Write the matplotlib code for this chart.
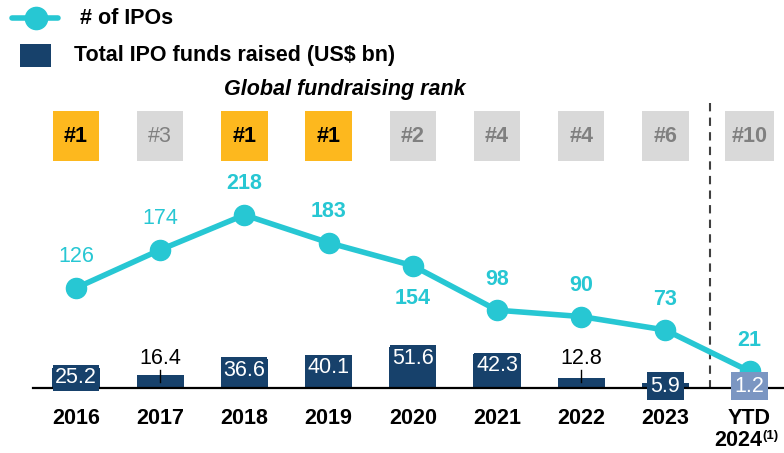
import numpy as np
import matplotlib.pyplot as plt
from matplotlib.patches import Rectangle
from matplotlib.lines import Line2D

plt.rcParams['font.family'] = ['Liberation Sans', 'DejaVu Sans']

# data
years = ['2016', '2017', '2018', '2019', '2020', '2021', '2022', '2023', 'YTD']
ipo_count = [126, 174, 218, 183, 154, 98, 90, 73, 21]
funds_bn = [25.2, 16.4, 36.6, 40.1, 51.6, 42.3, 12.8, 5.9, 1.2]
ranks = ['#1', '#3', '#1', '#1', '#2', '#4', '#4', '#6', '#10']

# styling
CYAN = '#27C7D3'
NAVY = '#17416B'
LIGHT_BLUE = '#7B96C2'
ORANGE = '#FDB81E'
GREY_BOX = '#D9D9D9'
GREY_TXT = '#808080'

W, H = 784, 453
X0, DX = 76, 84.2      # pixel centre of first category and spacing
Y0, SY = 388, 0.794    # pixel row of zero line and px per unit


def dx(px):
    return (px - X0) / DX


def dy(py):
    return (Y0 - py) / SY


fig = plt.figure(figsize=(W / 100, H / 100), dpi=100)
ax = fig.add_axes([0, 0, 1, 1])
ax.set_xlim(dx(0), dx(W))
ax.set_ylim(dy(H), dy(0))
ax.axis('off')

x = np.arange(len(years))

# bars
bar_colors = [NAVY] * (len(years) - 1) + [LIGHT_BLUE]
ax.bar(x, funds_bn, width=0.56, color=bar_colors, zorder=2)
ax.plot([dx(33), dx(W)], [0, 0], color='black', lw=1.6, zorder=3)

# line
ax.plot(x, ipo_count, color=CYAN, lw=4, marker='o', ms=14.5, zorder=6,
        solid_capstyle='round')
for i, v in enumerate(ipo_count):
    below = (i == 4)
    off = 33 if below else -31
    weight = 'normal' if i in (0, 1) else 'bold'
    ax.annotate(f'{v}', (i, v), xytext=(0, -off * 0.72), textcoords='offset points',
                ha='center', va='center', fontsize=15.5, color=CYAN,
                fontweight=weight, zorder=7)

# bar labels
for i, v in enumerate(funds_bn):
    if v in (16.4, 12.8):
        ax.plot([i, i], [dy(382), dy(370)], color='black', lw=1, zorder=4)
        ax.text(i, dy(358), f'{v}', ha='center', va='center',
                fontsize=15.5, color='black')
    elif v < 10:
        ax.text(i, dy(386), f'{v}', ha='center', va='center',
                fontsize=15.5, color='white', zorder=10,
                bbox=dict(boxstyle='square,pad=0.15', fc=bar_colors[i], ec='none'))
    else:
        yc = v - min(v / 2, 14)
        ax.text(i, yc, f'{v}', ha='center', va='center', fontsize=15.5,
                color='white', zorder=10,
                bbox=dict(boxstyle='square,pad=0.1', fc=NAVY, ec='none'))

# YTD separator
ax.plot([7.53, 7.53], [dy(103), 0], color='#404040', lw=1.5,
        ls=(0, (4, 3)), zorder=1)

# x labels
for i, lab in enumerate(years):
    ax.text(i, dy(419), lab, ha='center', va='center', fontsize=15.5,
            fontweight='bold')
ax.text(dx(762), dy(441), '2024', ha='right', va='center', fontsize=15.5,
        fontweight='bold')
ax.text(dx(762), dy(436), '(1)', ha='left', va='center', fontsize=9.5,
        fontweight='bold')

# rank boxes
for i, r in enumerate(ranks):
    top = r == '#1'
    w = 0.58 if r == '#10' else 0.55
    ax.add_patch(Rectangle((i - w / 2, dy(161)), w, dy(111) - dy(161),
                           fc=ORANGE if top else GREY_BOX, ec='none', zorder=1))
    ax.text(i, dy(136), r, ha='center', va='center', fontsize=15.5,
            color='black' if top else GREY_TXT,
            fontweight='normal' if r == '#3' else 'bold')
ax.text(dx(345), dy(90), 'Global fundraising rank', ha='center', va='center',
        fontsize=15.5, fontweight='bold', style='italic')

# legend
fig.add_artist(Line2D([12 / W, 58 / W], [1 - 18 / H, 1 - 18 / H], color=CYAN,
                      lw=4, solid_capstyle='round'))
fig.add_artist(Line2D([36 / W], [1 - 18 / H], color=CYAN, marker='o', ms=16))
fig.text(80 / W, 1 - 18 / H, '# of IPOs', ha='left', va='center', fontsize=15.5,
         fontweight='bold')
fig.add_artist(Rectangle((20 / W, 1 - 67 / H), 31 / W, 23 / H, fc=NAVY,
                         ec='none', transform=fig.transFigure))
fig.text(74 / W, 1 - 56 / H, 'Total IPO funds raised (US$ bn)', ha='left',
         va='center', fontsize=15.5, fontweight='bold')

fig.savefig('out.png', dpi=100)
